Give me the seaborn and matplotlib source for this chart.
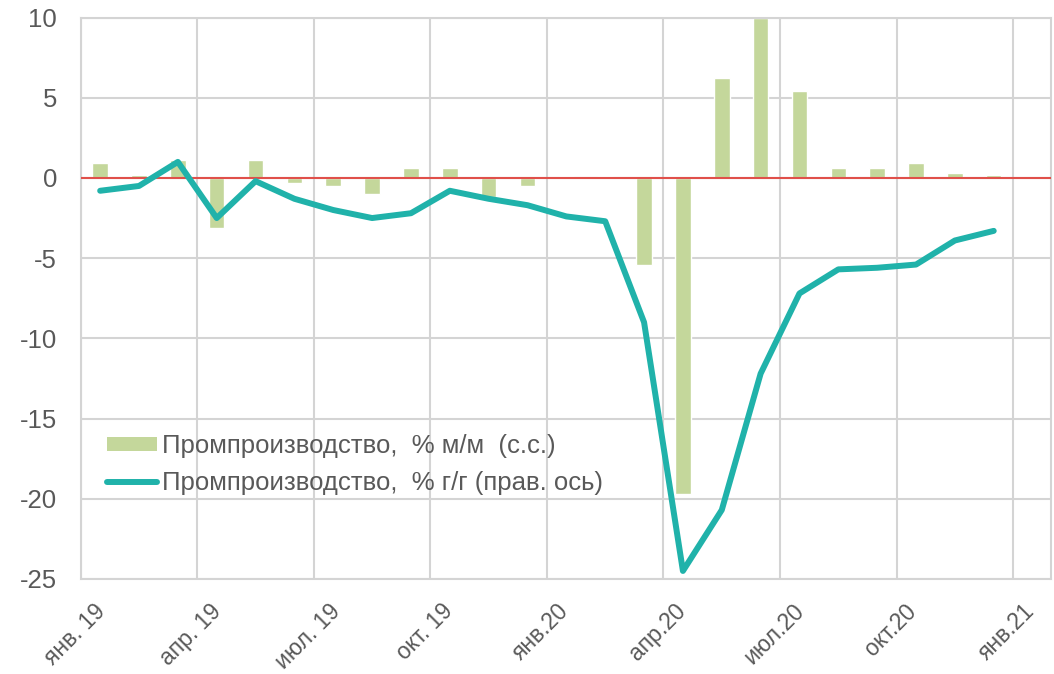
import numpy as np
import pandas as pd
import matplotlib
matplotlib.use('Agg')
import matplotlib.pyplot as plt
import matplotlib.transforms as mtransforms
import seaborn as sns
from matplotlib.patches import Patch
from matplotlib.lines import Line2D

# months jan.19 .. dec.20
months = pd.date_range('2019-01-01', periods=24, freq='MS')
mom = [0.9, 0.2, 1.1, -3.1, 1.1, -0.3, -0.5, -1.0, 0.6, 0.6, -1.2, -0.5,
       0.1, 0.1, -5.4, -19.7, 6.2, 10.0, 5.4, 0.6, 0.6, 0.9, 0.3, 0.2]
yoy = [-0.8, -0.5, 1.0, -2.5, -0.2, -1.3, -2.0, -2.5, -2.2, -0.8, -1.3, -1.7,
       -2.4, -2.7, -9.0, -24.5, -20.7, -12.2, -7.2, -5.7, -5.6, -5.4, -3.9, -3.3]
tick_labels = ['янв. 19', 'апр. 19', 'июл. 19', 'окт. 19', 'янв.20',
               'апр.20', 'июл.20', 'окт.20', 'янв.21']
label_mom = 'Промпроизводство,  % м/м  (с.с.)'
label_yoy = 'Промпроизводство,  % г/г (прав. ось)'

df = pd.DataFrame({'month': months, 'mom': mom, 'yoy': yoy})
df['pos'] = np.arange(len(df)) + 0.5

sns.set_style('white')
plt.rcParams['font.family'] = ['Liberation Sans', 'DejaVu Sans']
plt.rcParams['axes.unicode_minus'] = False

bar_color = '#C4D79B'
line_color = '#20B2AA'
text_color = '#595959'
grid_color = '#D4D4D4'
fs = 18.5

fig = plt.figure(figsize=(10.54, 6.74), dpi=100)
ax = fig.add_axes([0.0766, 0.141, 0.9204, 0.833])

sns.barplot(data=df, x='pos', y='mom', native_scale=True, width=0.4,
            color=bar_color, saturation=1, ax=ax, zorder=2)
sns.lineplot(data=df, x='pos', y='yoy', color=line_color, linewidth=4.3,
             ax=ax, zorder=4)
ax.axhline(0, color='#E0504A', linewidth=1.5, zorder=3)

ax.set_xlim(0, 24.97)
ax.set_ylim(-25, 10)
ax.set_yticks(range(-25, 11, 5))
ax.set_xticks(range(0, 25, 3))
ax.set_xticklabels(tick_labels, rotation=45, ha='center', va='top')
ax.tick_params(axis='both', length=0, labelsize=fs, colors=text_color)
ax.tick_params(axis='y', pad=17)
ax.tick_params(axis='x', labelsize=16.5, pad=15)
shift = mtransforms.ScaledTranslation(-6 / 100, 0, fig.dpi_scale_trans)
for lab in ax.get_xticklabels():
    lab.set_transform(lab.get_transform() + shift)
ax.set_xlabel('')
ax.set_ylabel('')
ax.grid(True, color=grid_color, linewidth=1.5, zorder=0)
ax.set_axisbelow(True)
for s in ax.spines.values():
    s.set_color(grid_color)
    s.set_linewidth(1.5)

handles = [Patch(facecolor=bar_color, edgecolor='none', label=label_mom),
           Line2D([0], [0], color=line_color, linewidth=4.3, label=label_yoy)]
ax.legend(handles=handles, loc='center left', bbox_to_anchor=(0.027, 0.204),
          frameon=False, fontsize=fs, labelcolor=text_color,
          handlelength=1.95, handleheight=0.45, handletextpad=0.2,
          labelspacing=0.52, borderpad=0, borderaxespad=0)

plt.savefig('out.png', dpi=100)
